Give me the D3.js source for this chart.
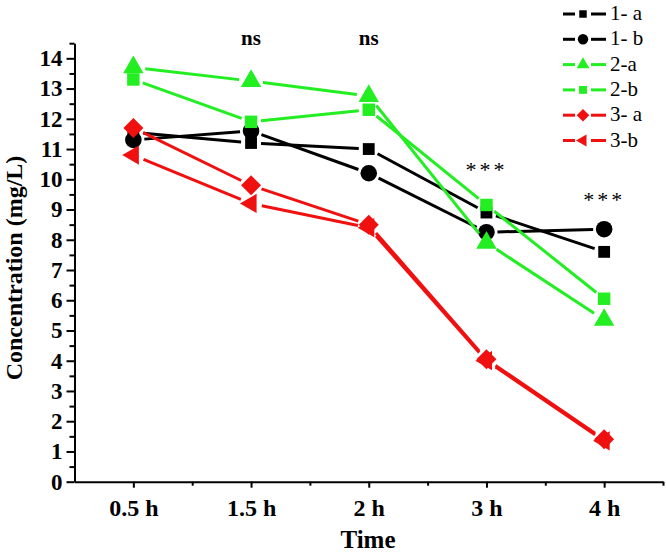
<!DOCTYPE html>
<html><head><meta charset="utf-8">
<script src="https://cdn.jsdelivr.net/npm/d3@7"></script>
<style>
html,body{margin:0;padding:0;background:#fff;}
svg{display:block;}
text{font-family:"Liberation Serif","Times New Roman",serif;}
</style></head>
<body><svg id="c" width="666" height="553"></svg>
<script>
const categories = ["0.5 h", "1.5 h", "2 h", "3 h", "4 h"];
const seriesNames = ["1- a", "1- b", "2-a", "2-b", "3- a", "3-b"];
const s1a = [11.55, 11.2, 11.0, 8.9, 7.6];
const s1b = [11.3, 11.6, 10.2, 8.25, 8.35];
const s2a = [13.7, 13.25, 12.75, 7.9, 5.35];
const s2b = [13.3, 11.9, 12.3, 9.15, 6.05];
const s3a = [11.7, 9.8, 8.5, 4.05, 1.4];
const s3b = [10.8, 9.2, 8.4, 4.0, 1.35];
const yTicks = [0,1,2,3,4,5,6,7,8,9,10,11,12,13,14];
const sigLabels = ["", "ns", "ns", "***", "***"];
const sigLevels = [null, 14.44, 14.44, 10.07, 9.08];

const styles = [
  {color:"#000000", shape:"square", size:140, gap:10},
  {color:"#000000", shape:"circle", size:215, gap:11},
  {color:"#22ee22", shape:"triUp", size:180, gap:12},
  {color:"#22ee22", shape:"square", size:155, gap:10},
  {color:"#f01010", shape:"diamond", size:200, gap:11},
  {color:"#f01010", shape:"triLeft", size:160, gap:11}
];
const values = [s1a, s1b, s2a, s2b, s3a, s3b];
const FONT = '"Liberation Serif","Times New Roman",serif';

const svg = d3.select("#c");
const x = d3.scaleLinear().domain([-0.5, 4.5]).range([74.5, 663]);
const y = d3.scaleLinear().domain([0, 14.5]).range([481.7, 43.2]);

function symPath(shape, size){
  if(shape==="square"||shape==="diamond") return d3.symbol(d3.symbolSquare, size)();
  if(shape==="circle") return d3.symbol(d3.symbolCircle, size)();
  return d3.symbol(d3.symbolTriangle, size)();
}
function symRot(shape){
  if(shape==="diamond") return 45;
  if(shape==="triLeft") return -90;
  return 0;
}

// axes
const yMinor = d3.range(0, 14.51, 0.5).filter(v => Math.abs(v - Math.round(v)) > 0.01);
const axG = svg.append("g");
const yAxis = d3.axisLeft(y).tickValues(yTicks).tickSize(8).tickSizeOuter(0).tickFormat(d3.format("d"));
const gy = axG.append("g").attr("transform", "translate(74.5,0)").call(yAxis);
gy.select(".domain").attr("stroke","#000").attr("stroke-width",2);
gy.selectAll(".tick line").attr("stroke","#000").attr("stroke-width",2);
gy.selectAll(".tick text").attr("font-size",23).attr("font-weight","bold").attr("x",-12)
  .attr("font-family",FONT).attr("fill","#000");
const gyMinor = axG.append("g").attr("transform","translate(74.5,0)")
  .call(d3.axisLeft(y).tickValues(yMinor).tickSize(5).tickFormat(""));
gyMinor.select(".domain").remove();
gyMinor.selectAll(".tick line").attr("stroke","#000").attr("stroke-width",2);

const xAxis = d3.axisBottom(x).tickValues(d3.range(categories.length)).tickSize(6).tickSizeOuter(0)
  .tickFormat(i => categories[i]);
const gx = axG.append("g").attr("transform","translate(0,481.7)").call(xAxis);
gx.select(".domain").attr("stroke","#000").attr("stroke-width",2);
gx.selectAll(".tick line").attr("stroke","#000").attr("stroke-width",2);
gx.selectAll(".tick text").attr("font-size",24).attr("font-weight","bold").attr("y",17)
  .attr("font-family",FONT).attr("fill","#000");
const gxMinor = axG.append("g").attr("transform","translate(0,481.7)")
  .call(d3.axisBottom(x).tickValues(d3.range(categories.length).map(i => i + 0.5)).tickSize(4).tickFormat(""));
gxMinor.select(".domain").remove();
gxMinor.selectAll(".tick line").attr("stroke","#000").attr("stroke-width",2);

svg.append("text").attr("x", 368).attr("y", 548).attr("text-anchor","middle")
  .attr("font-size",25).attr("font-weight","bold").text("Time");
svg.append("text").attr("transform","translate(22,268) rotate(-90)").attr("text-anchor","middle")
  .attr("font-size",24).attr("font-weight","bold").text("Concentration (mg/L)");

// series
values.forEach((vals, si) => {
  const st = styles[si];
  const g = svg.append("g");
  const pts = vals.map((v,i) => [x(i), y(v)]);
  for(let i=0;i<pts.length-1;i++){
    const [x1,y1] = pts[i], [x2,y2] = pts[i+1];
    const dx = x2-x1, dy = y2-y1, L = Math.hypot(dx,dy);
    const ux = dx/L, uy = dy/L;
    g.append("line")
      .attr("x1", x1 + ux*st.gap).attr("y1", y1 + uy*st.gap)
      .attr("x2", x2 - ux*st.gap).attr("y2", y2 - uy*st.gap)
      .attr("stroke", st.color).attr("stroke-width", 3);
  }
  g.selectAll("path.m").data(vals).join("path").attr("class","m")
    .attr("d", symPath(st.shape, st.size))
    .attr("transform", (v,i) => `translate(${x(i)},${y(v)}) rotate(${symRot(st.shape)})`)
    .attr("fill", st.color);
});

// significance labels
sigLabels.forEach((lab, i) => {
  if(!lab) return;
  const t = svg.append("text").attr("x", x(i)).attr("y", y(sigLevels[i])).attr("text-anchor","middle").text(lab);
  if(lab === "ns") t.attr("font-size",21).attr("font-weight","bold");
  else t.attr("font-size",22).attr("letter-spacing","3px");
});

// legend
const lg = svg.append("g");
seriesNames.forEach((name, si) => {
  const st = styles[si];
  const cy = 14 + si*25.3;
  lg.append("line").attr("x1",563).attr("x2",575).attr("y1",cy).attr("y2",cy)
    .attr("stroke",st.color).attr("stroke-width",3);
  lg.append("line").attr("x1",591).attr("x2",606).attr("y1",cy).attr("y2",cy)
    .attr("stroke",st.color).attr("stroke-width",3);
  lg.append("path").attr("d", symPath(st.shape, st.size*0.4))
    .attr("transform", `translate(583,${cy}) rotate(${symRot(st.shape)})`).attr("fill", st.color);
  lg.append("text").attr("x",610).attr("y",cy+6).attr("font-size",21).attr("fill","#000").text(name);
});
</script></body></html>
